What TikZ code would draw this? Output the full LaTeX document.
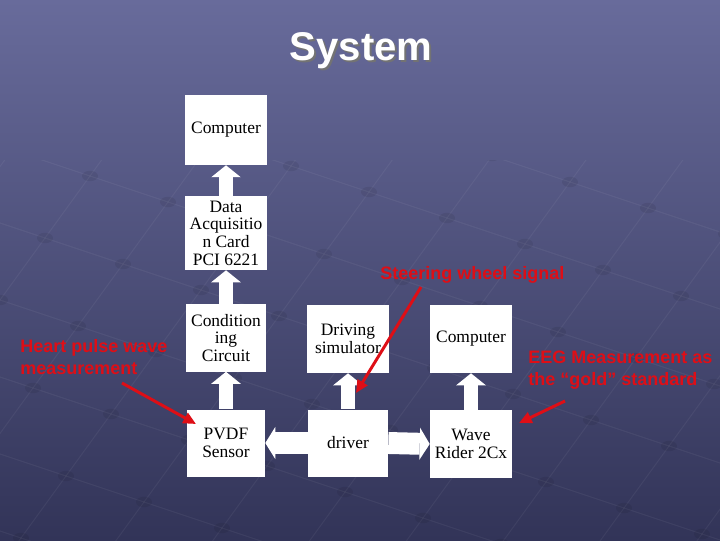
\documentclass[tikz,border=0pt]{standalone}
\usepackage{fontspec}
\setmainfont{Liberation Serif}
\newfontfamily\slidefont{Liberation Sans}
\usetikzlibrary{arrows.meta,calc}

\definecolor{slidetop}{RGB}{104,107,155}
\definecolor{slidebot}{RGB}{50,52,88}
\definecolor{notered}{RGB}{222,14,22}

\tikzset{
  box/.style={fill=white, align=center, inner sep=0pt, minimum width=2.05cm, minimum height=1.7cm,
    font=\fontsize{12.4}{12.6}\selectfont},
  upflow/.style={draw=white, line width=9.3pt, -{Triangle[width=21pt,length=8.5pt,line width=0pt]}},
  sideflow/.style={draw=white, line width=15.6pt, -{Triangle[width=22.8pt,length=7.1pt,line width=0pt]}},
  note/.style={text=notered, align=left, inner sep=0pt, anchor=base west,
    font=\slidefont\bfseries\fontsize{12.8}{15}\selectfont},
  pointer/.style={draw=notered, line width=2.1pt, -{Triangle[width=8pt,length=9pt]}},
  gridline/.style={draw=white, opacity=0.05, line width=0.7pt},
  griddot/.style={fill=black, opacity=0.07},
  title/.style={anchor=base, inner sep=0pt, font=\slidefont\bfseries\fontsize{28.5}{30}\selectfont}
}

\begin{document}
\begin{tikzpicture}[x=0.025cm, y=-0.025cm]
  \useasboundingbox (0,0) rectangle (720,540);
  \shade[top color=slidetop, bottom color=slidebot] (0,0) rectangle (720,540);

  % template grid
  \begin{scope}
    \clip (0,160) rectangle (720,540);
    \foreach \i in {-12,...,14}
      \draw[gridline] ({\i*78-20*45},{300+\i*26+20*62}) -- ({\i*78+20*45},{300+\i*26-20*62});
    \foreach \j in {-14,...,12}
      \draw[gridline] ({-20*78+\j*45},{300-20*26-\j*62}) -- ({20*78+\j*45},{300+20*26-\j*62});
    \foreach \i in {-6,...,12}
      \foreach \j in {-8,...,12}
        \fill[griddot] ({\i*78+\j*45},{300+\i*26-\j*62}) ellipse (0.2cm and 0.13cm);
  \end{scope}

  % title
  \node[title, text=black!55] (ttlshadow) at (363,62) {System};
  \node[title, text=white] (ttl) at (361,60) {System};

  % blocks
  \node[box, minimum height=1.75cm] (comp1) at (226,130) {Computer};
  \node[box, minimum height=1.85cm] (daq) at (226,233) {Data\\Acquisitio\\n Card\\PCI 6221};
  \node[box, minimum width=2cm, minimum height=1.675cm] (cond) at (226,338) {Condition\\ing\\Circuit};
  \node[box, minimum width=1.95cm, minimum height=1.675cm] (pvdf) at (226,443) {PVDF\\Sensor};
  \node[box] (drsim) at (348,339) {Driving\\simulator};
  \node[box, minimum width=2cm, minimum height=1.675cm] (drv) at (348,443) {driver};
  \node[box] (comp2) at (471,339) {Computer};
  \node[box] (wave) at (471,444) {Wave\\Rider 2Cx};

  % flow arrows
  \draw[upflow] (daq.north) -- (comp1.south);
  \draw[upflow] (cond.north) -- (daq.south);
  \draw[upflow] (pvdf.north) -- (cond.south);
  \draw[upflow] (drv.north) -- (drsim.south);
  \draw[upflow] (wave.north) -- (comp2.south);
  \draw[sideflow] (drv.west) -- (pvdf.east);
  \draw[sideflow] (drv.east) -- (wave.west);

  % red notes
  \node[note] (heart) at (20,374) {Heart pulse wave\\measurement};
  \node[note] (steer) at (380,279) {Steering wheel signal};
  \node[note] (eeg) at (528,385) {EEG Measurement as\\the “gold” standard};

  \coordinate (heartfrom) at (122,383);
  \coordinate (heartat) at (196,424);
  \coordinate (steerfrom) at (421,287);
  \coordinate (steerat) at (356,393);
  \coordinate (eegfrom) at (565,401);
  \coordinate (eegat) at (519,423);
  \draw[pointer] (heartfrom) -- (heartat);
  \draw[pointer] (steerfrom) -- (steerat);
  \draw[pointer] (eegfrom) -- (eegat);
\end{tikzpicture}
\end{document}
